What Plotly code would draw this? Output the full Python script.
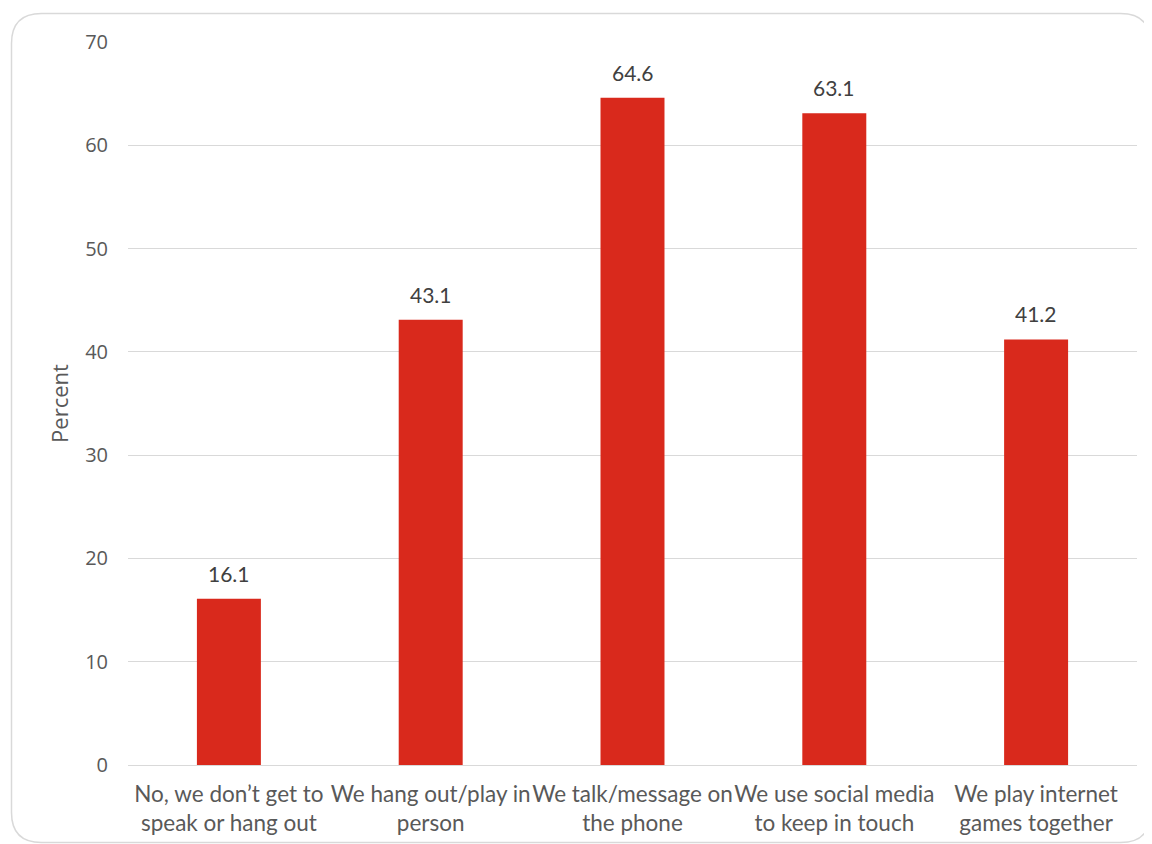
import plotly.graph_objects as go

categories = [
    "No, we don’t get to<br>speak or hang out",
    "We hang out/play in<br>person",
    "We talk/message on<br>the phone",
    "We use social media<br>to keep in touch",
    "We play internet<br>games together",
]
values = [16.1, 43.1, 64.6, 63.1, 41.2]
y_ticks = [0, 10, 20, 30, 40, 50, 60, 70]

# page has an 8px body margin; figure is sized/offset to compensate
OFF = 8
W, H = 1152 - OFF, 844 - OFF
ML, MR, MT, MB = 128 - OFF, 15, 42 - OFF, 79
PW, PH = W - ML - MR, H - MT - MB

def px(x):
    return (x - OFF - ML) / PW

def py(y):
    return 1 - (y - OFF - MT) / PH

FONT = "Lato"
TXT = "#595959"

fig = go.Figure()
fig.add_trace(go.Bar(
    x=categories, y=values,
    marker=dict(color="#d9291c", line=dict(width=0)),
    width=0.317,
    hoverinfo="x+y",
))

for c, v in zip(categories, values):
    fig.add_annotation(x=c, y=v, text=f"{v:.1f}", showarrow=False,
                       yanchor="bottom", yshift=11,
                       font=dict(family=FONT, size=21, color="#404040"))

# rounded frame (partially cut off on right and bottom like the reference)
x0, y0, x1, y1, r = 11.5, 13.5, 1150.5, 842.5, 30
path = (f"M {px(x0)},{py(y0 + r)} "
        f"Q {px(x0)},{py(y0)} {px(x0 + r)},{py(y0)} "
        f"L {px(x1 - r)},{py(y0)} "
        f"Q {px(x1)},{py(y0)} {px(x1)},{py(y0 + r)} "
        f"L {px(x1)},{py(y1 - r)} "
        f"Q {px(x1)},{py(y1)} {px(x1 - r)},{py(y1)} "
        f"L {px(x0 + r)},{py(y1)} "
        f"Q {px(x0)},{py(y1)} {px(x0)},{py(y1 - r)} Z")
fig.add_shape(type="path", path=path, xref="paper", yref="paper",
              line=dict(color="#d9d9d9", width=1.5), fillcolor="rgba(0,0,0,0)",
              layer="below")

fig.update_layout(
    width=W, height=H,
    margin=dict(l=ML, r=MR, t=MT, b=MB),
    paper_bgcolor="white", plot_bgcolor="white",
    showlegend=False,
    font=dict(family=FONT, color=TXT),
    xaxis=dict(
        tickfont=dict(family=FONT, size=22.5, color=TXT),
        tickangle=0, automargin=False,
        showgrid=False, showline=False, ticks="",
        ticklabelstandoff=13,
    ),
    yaxis=dict(
        range=[0, 70], tickvals=y_ticks, automargin=False,
        showgrid=True, gridcolor="#d9d9d9", gridwidth=1.3,
        zeroline=True, zerolinecolor="#d9d9d9", zerolinewidth=1.3,
        showline=False, ticks="",
        tickfont=dict(family="Open Sans", size=20, color=TXT),
        ticklabelstandoff=19,
        title=dict(text="Percent", font=dict(family="Open Sans", size=22, color=TXT),
                   standoff=10),
    ),
)

fig.write_html("out.html")
